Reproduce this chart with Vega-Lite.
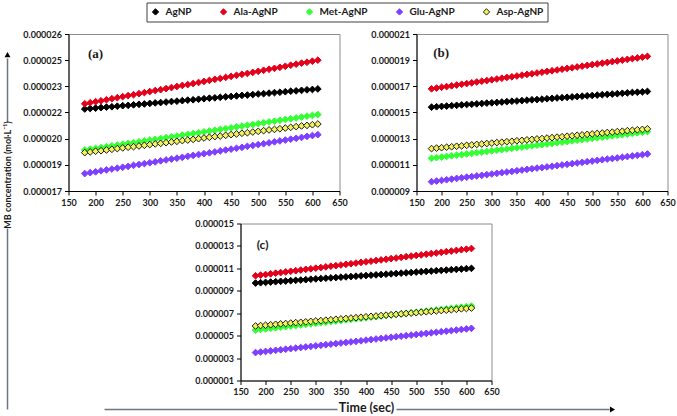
{
  "$schema": "https://vega.github.io/schema/vega-lite/v6.json",
  "background": "white",
  "padding": {"left": 3.5, "top": 2, "right": 0, "bottom": 0},
  "config": {
    "font": "Lato",
    "view": {"stroke": "#8c8c8c", "strokeWidth": 1},
    "axis": {"labelFont": "Lato", "labelFontWeight": "bold", "labelFontSize": 9, "labelColor": "#1a1a1a", "domainColor": "#000000", "tickColor": "#000000", "tickSize": 4, "labelPadding": 3, "grid": false, "title": null, "labelOverlap": false, "labelFlush": false, "tickCount": 30}
  },
  "datasets": {
    "a": [
      {"t":180,"AgNP":21.70e-6,"Ala-AgNP":22.00e-6,"Met-AgNP":19.35e-6,"Glu-AgNP":18.00e-6,"Asp-AgNP":19.20e-6},
      {"t":190,"AgNP":21.73e-6,"Ala-AgNP":22.06e-6,"Met-AgNP":19.40e-6,"Glu-AgNP":18.05e-6,"Asp-AgNP":19.24e-6},
      {"t":200,"AgNP":21.75e-6,"Ala-AgNP":22.12e-6,"Met-AgNP":19.44e-6,"Glu-AgNP":18.10e-6,"Asp-AgNP":19.28e-6},
      {"t":210,"AgNP":21.78e-6,"Ala-AgNP":22.17e-6,"Met-AgNP":19.49e-6,"Glu-AgNP":18.16e-6,"Asp-AgNP":19.31e-6},
      {"t":220,"AgNP":21.81e-6,"Ala-AgNP":22.23e-6,"Met-AgNP":19.54e-6,"Glu-AgNP":18.21e-6,"Asp-AgNP":19.35e-6},
      {"t":230,"AgNP":21.83e-6,"Ala-AgNP":22.29e-6,"Met-AgNP":19.59e-6,"Glu-AgNP":18.26e-6,"Asp-AgNP":19.39e-6},
      {"t":240,"AgNP":21.86e-6,"Ala-AgNP":22.35e-6,"Met-AgNP":19.63e-6,"Glu-AgNP":18.31e-6,"Asp-AgNP":19.43e-6},
      {"t":250,"AgNP":21.89e-6,"Ala-AgNP":22.41e-6,"Met-AgNP":19.68e-6,"Glu-AgNP":18.36e-6,"Asp-AgNP":19.47e-6},
      {"t":260,"AgNP":21.91e-6,"Ala-AgNP":22.47e-6,"Met-AgNP":19.73e-6,"Glu-AgNP":18.41e-6,"Asp-AgNP":19.51e-6},
      {"t":270,"AgNP":21.94e-6,"Ala-AgNP":22.52e-6,"Met-AgNP":19.77e-6,"Glu-AgNP":18.47e-6,"Asp-AgNP":19.54e-6},
      {"t":280,"AgNP":21.97e-6,"Ala-AgNP":22.58e-6,"Met-AgNP":19.82e-6,"Glu-AgNP":18.52e-6,"Asp-AgNP":19.58e-6},
      {"t":290,"AgNP":21.99e-6,"Ala-AgNP":22.64e-6,"Met-AgNP":19.87e-6,"Glu-AgNP":18.57e-6,"Asp-AgNP":19.62e-6},
      {"t":300,"AgNP":22.02e-6,"Ala-AgNP":22.70e-6,"Met-AgNP":19.92e-6,"Glu-AgNP":18.62e-6,"Asp-AgNP":19.66e-6},
      {"t":310,"AgNP":22.05e-6,"Ala-AgNP":22.76e-6,"Met-AgNP":19.96e-6,"Glu-AgNP":18.67e-6,"Asp-AgNP":19.70e-6},
      {"t":320,"AgNP":22.07e-6,"Ala-AgNP":22.81e-6,"Met-AgNP":20.01e-6,"Glu-AgNP":18.73e-6,"Asp-AgNP":19.73e-6},
      {"t":330,"AgNP":22.10e-6,"Ala-AgNP":22.87e-6,"Met-AgNP":20.06e-6,"Glu-AgNP":18.78e-6,"Asp-AgNP":19.77e-6},
      {"t":340,"AgNP":22.13e-6,"Ala-AgNP":22.93e-6,"Met-AgNP":20.11e-6,"Glu-AgNP":18.83e-6,"Asp-AgNP":19.81e-6},
      {"t":350,"AgNP":22.15e-6,"Ala-AgNP":22.99e-6,"Met-AgNP":20.15e-6,"Glu-AgNP":18.88e-6,"Asp-AgNP":19.85e-6},
      {"t":360,"AgNP":22.18e-6,"Ala-AgNP":23.05e-6,"Met-AgNP":20.20e-6,"Glu-AgNP":18.93e-6,"Asp-AgNP":19.89e-6},
      {"t":370,"AgNP":22.21e-6,"Ala-AgNP":23.10e-6,"Met-AgNP":20.25e-6,"Glu-AgNP":18.99e-6,"Asp-AgNP":19.92e-6},
      {"t":380,"AgNP":22.23e-6,"Ala-AgNP":23.16e-6,"Met-AgNP":20.29e-6,"Glu-AgNP":19.04e-6,"Asp-AgNP":19.96e-6},
      {"t":390,"AgNP":22.26e-6,"Ala-AgNP":23.22e-6,"Met-AgNP":20.34e-6,"Glu-AgNP":19.09e-6,"Asp-AgNP":20.00e-6},
      {"t":400,"AgNP":22.29e-6,"Ala-AgNP":23.28e-6,"Met-AgNP":20.39e-6,"Glu-AgNP":19.14e-6,"Asp-AgNP":20.04e-6},
      {"t":410,"AgNP":22.32e-6,"Ala-AgNP":23.34e-6,"Met-AgNP":20.44e-6,"Glu-AgNP":19.19e-6,"Asp-AgNP":20.08e-6},
      {"t":420,"AgNP":22.34e-6,"Ala-AgNP":23.40e-6,"Met-AgNP":20.48e-6,"Glu-AgNP":19.24e-6,"Asp-AgNP":20.12e-6},
      {"t":430,"AgNP":22.37e-6,"Ala-AgNP":23.45e-6,"Met-AgNP":20.53e-6,"Glu-AgNP":19.30e-6,"Asp-AgNP":20.15e-6},
      {"t":440,"AgNP":22.40e-6,"Ala-AgNP":23.51e-6,"Met-AgNP":20.58e-6,"Glu-AgNP":19.35e-6,"Asp-AgNP":20.19e-6},
      {"t":450,"AgNP":22.42e-6,"Ala-AgNP":23.57e-6,"Met-AgNP":20.62e-6,"Glu-AgNP":19.40e-6,"Asp-AgNP":20.23e-6},
      {"t":460,"AgNP":22.45e-6,"Ala-AgNP":23.63e-6,"Met-AgNP":20.67e-6,"Glu-AgNP":19.45e-6,"Asp-AgNP":20.27e-6},
      {"t":470,"AgNP":22.48e-6,"Ala-AgNP":23.69e-6,"Met-AgNP":20.72e-6,"Glu-AgNP":19.50e-6,"Asp-AgNP":20.31e-6},
      {"t":480,"AgNP":22.50e-6,"Ala-AgNP":23.74e-6,"Met-AgNP":20.77e-6,"Glu-AgNP":19.56e-6,"Asp-AgNP":20.34e-6},
      {"t":490,"AgNP":22.53e-6,"Ala-AgNP":23.80e-6,"Met-AgNP":20.81e-6,"Glu-AgNP":19.61e-6,"Asp-AgNP":20.38e-6},
      {"t":500,"AgNP":22.56e-6,"Ala-AgNP":23.86e-6,"Met-AgNP":20.86e-6,"Glu-AgNP":19.66e-6,"Asp-AgNP":20.42e-6},
      {"t":510,"AgNP":22.58e-6,"Ala-AgNP":23.92e-6,"Met-AgNP":20.91e-6,"Glu-AgNP":19.71e-6,"Asp-AgNP":20.46e-6},
      {"t":520,"AgNP":22.61e-6,"Ala-AgNP":23.98e-6,"Met-AgNP":20.96e-6,"Glu-AgNP":19.76e-6,"Asp-AgNP":20.50e-6},
      {"t":530,"AgNP":22.64e-6,"Ala-AgNP":24.03e-6,"Met-AgNP":21.00e-6,"Glu-AgNP":19.82e-6,"Asp-AgNP":20.53e-6},
      {"t":540,"AgNP":22.66e-6,"Ala-AgNP":24.09e-6,"Met-AgNP":21.05e-6,"Glu-AgNP":19.87e-6,"Asp-AgNP":20.57e-6},
      {"t":550,"AgNP":22.69e-6,"Ala-AgNP":24.15e-6,"Met-AgNP":21.10e-6,"Glu-AgNP":19.92e-6,"Asp-AgNP":20.61e-6},
      {"t":560,"AgNP":22.72e-6,"Ala-AgNP":24.21e-6,"Met-AgNP":21.14e-6,"Glu-AgNP":19.97e-6,"Asp-AgNP":20.65e-6},
      {"t":570,"AgNP":22.74e-6,"Ala-AgNP":24.27e-6,"Met-AgNP":21.19e-6,"Glu-AgNP":20.02e-6,"Asp-AgNP":20.69e-6},
      {"t":580,"AgNP":22.77e-6,"Ala-AgNP":24.33e-6,"Met-AgNP":21.24e-6,"Glu-AgNP":20.07e-6,"Asp-AgNP":20.73e-6},
      {"t":590,"AgNP":22.80e-6,"Ala-AgNP":24.38e-6,"Met-AgNP":21.29e-6,"Glu-AgNP":20.13e-6,"Asp-AgNP":20.76e-6},
      {"t":600,"AgNP":22.82e-6,"Ala-AgNP":24.44e-6,"Met-AgNP":21.33e-6,"Glu-AgNP":20.18e-6,"Asp-AgNP":20.80e-6},
      {"t":610,"AgNP":22.85e-6,"Ala-AgNP":24.50e-6,"Met-AgNP":21.38e-6,"Glu-AgNP":20.23e-6,"Asp-AgNP":20.84e-6}
    ],
    "b": [
      {"t":180,"AgNP":15.41e-6,"Ala-AgNP":16.81e-6,"Met-AgNP":11.50e-6,"Glu-AgNP":9.71e-6,"Asp-AgNP":12.24e-6},
      {"t":190,"AgNP":15.44e-6,"Ala-AgNP":16.87e-6,"Met-AgNP":11.55e-6,"Glu-AgNP":9.76e-6,"Asp-AgNP":12.28e-6},
      {"t":200,"AgNP":15.47e-6,"Ala-AgNP":16.93e-6,"Met-AgNP":11.59e-6,"Glu-AgNP":9.81e-6,"Asp-AgNP":12.31e-6},
      {"t":210,"AgNP":15.49e-6,"Ala-AgNP":16.98e-6,"Met-AgNP":11.64e-6,"Glu-AgNP":9.86e-6,"Asp-AgNP":12.35e-6},
      {"t":220,"AgNP":15.52e-6,"Ala-AgNP":17.04e-6,"Met-AgNP":11.69e-6,"Glu-AgNP":9.91e-6,"Asp-AgNP":12.38e-6},
      {"t":230,"AgNP":15.55e-6,"Ala-AgNP":17.10e-6,"Met-AgNP":11.74e-6,"Glu-AgNP":9.96e-6,"Asp-AgNP":12.42e-6},
      {"t":240,"AgNP":15.58e-6,"Ala-AgNP":17.16e-6,"Met-AgNP":11.78e-6,"Glu-AgNP":10.01e-6,"Asp-AgNP":12.45e-6},
      {"t":250,"AgNP":15.61e-6,"Ala-AgNP":17.21e-6,"Met-AgNP":11.83e-6,"Glu-AgNP":10.06e-6,"Asp-AgNP":12.49e-6},
      {"t":260,"AgNP":15.63e-6,"Ala-AgNP":17.27e-6,"Met-AgNP":11.88e-6,"Glu-AgNP":10.10e-6,"Asp-AgNP":12.52e-6},
      {"t":270,"AgNP":15.66e-6,"Ala-AgNP":17.33e-6,"Met-AgNP":11.93e-6,"Glu-AgNP":10.15e-6,"Asp-AgNP":12.56e-6},
      {"t":280,"AgNP":15.69e-6,"Ala-AgNP":17.39e-6,"Met-AgNP":11.97e-6,"Glu-AgNP":10.20e-6,"Asp-AgNP":12.59e-6},
      {"t":290,"AgNP":15.72e-6,"Ala-AgNP":17.44e-6,"Met-AgNP":12.02e-6,"Glu-AgNP":10.25e-6,"Asp-AgNP":12.63e-6},
      {"t":300,"AgNP":15.74e-6,"Ala-AgNP":17.50e-6,"Met-AgNP":12.07e-6,"Glu-AgNP":10.30e-6,"Asp-AgNP":12.66e-6},
      {"t":310,"AgNP":15.77e-6,"Ala-AgNP":17.56e-6,"Met-AgNP":12.12e-6,"Glu-AgNP":10.35e-6,"Asp-AgNP":12.70e-6},
      {"t":320,"AgNP":15.80e-6,"Ala-AgNP":17.62e-6,"Met-AgNP":12.16e-6,"Glu-AgNP":10.40e-6,"Asp-AgNP":12.73e-6},
      {"t":330,"AgNP":15.83e-6,"Ala-AgNP":17.68e-6,"Met-AgNP":12.21e-6,"Glu-AgNP":10.45e-6,"Asp-AgNP":12.77e-6},
      {"t":340,"AgNP":15.86e-6,"Ala-AgNP":17.73e-6,"Met-AgNP":12.26e-6,"Glu-AgNP":10.50e-6,"Asp-AgNP":12.80e-6},
      {"t":350,"AgNP":15.88e-6,"Ala-AgNP":17.79e-6,"Met-AgNP":12.31e-6,"Glu-AgNP":10.55e-6,"Asp-AgNP":12.84e-6},
      {"t":360,"AgNP":15.91e-6,"Ala-AgNP":17.85e-6,"Met-AgNP":12.35e-6,"Glu-AgNP":10.60e-6,"Asp-AgNP":12.87e-6},
      {"t":370,"AgNP":15.94e-6,"Ala-AgNP":17.91e-6,"Met-AgNP":12.40e-6,"Glu-AgNP":10.65e-6,"Asp-AgNP":12.91e-6},
      {"t":380,"AgNP":15.97e-6,"Ala-AgNP":17.96e-6,"Met-AgNP":12.45e-6,"Glu-AgNP":10.70e-6,"Asp-AgNP":12.94e-6},
      {"t":390,"AgNP":15.99e-6,"Ala-AgNP":18.02e-6,"Met-AgNP":12.50e-6,"Glu-AgNP":10.75e-6,"Asp-AgNP":12.98e-6},
      {"t":400,"AgNP":16.02e-6,"Ala-AgNP":18.08e-6,"Met-AgNP":12.54e-6,"Glu-AgNP":10.79e-6,"Asp-AgNP":13.01e-6},
      {"t":410,"AgNP":16.05e-6,"Ala-AgNP":18.14e-6,"Met-AgNP":12.59e-6,"Glu-AgNP":10.84e-6,"Asp-AgNP":13.05e-6},
      {"t":420,"AgNP":16.08e-6,"Ala-AgNP":18.19e-6,"Met-AgNP":12.64e-6,"Glu-AgNP":10.89e-6,"Asp-AgNP":13.08e-6},
      {"t":430,"AgNP":16.11e-6,"Ala-AgNP":18.25e-6,"Met-AgNP":12.69e-6,"Glu-AgNP":10.94e-6,"Asp-AgNP":13.12e-6},
      {"t":440,"AgNP":16.13e-6,"Ala-AgNP":18.31e-6,"Met-AgNP":12.73e-6,"Glu-AgNP":10.99e-6,"Asp-AgNP":13.15e-6},
      {"t":450,"AgNP":16.16e-6,"Ala-AgNP":18.37e-6,"Met-AgNP":12.78e-6,"Glu-AgNP":11.04e-6,"Asp-AgNP":13.19e-6},
      {"t":460,"AgNP":16.19e-6,"Ala-AgNP":18.42e-6,"Met-AgNP":12.83e-6,"Glu-AgNP":11.09e-6,"Asp-AgNP":13.22e-6},
      {"t":470,"AgNP":16.22e-6,"Ala-AgNP":18.48e-6,"Met-AgNP":12.88e-6,"Glu-AgNP":11.14e-6,"Asp-AgNP":13.26e-6},
      {"t":480,"AgNP":16.25e-6,"Ala-AgNP":18.54e-6,"Met-AgNP":12.92e-6,"Glu-AgNP":11.19e-6,"Asp-AgNP":13.29e-6},
      {"t":490,"AgNP":16.28e-6,"Ala-AgNP":18.60e-6,"Met-AgNP":12.97e-6,"Glu-AgNP":11.24e-6,"Asp-AgNP":13.33e-6},
      {"t":500,"AgNP":16.30e-6,"Ala-AgNP":18.66e-6,"Met-AgNP":13.02e-6,"Glu-AgNP":11.29e-6,"Asp-AgNP":13.36e-6},
      {"t":510,"AgNP":16.33e-6,"Ala-AgNP":18.71e-6,"Met-AgNP":13.07e-6,"Glu-AgNP":11.34e-6,"Asp-AgNP":13.40e-6},
      {"t":520,"AgNP":16.36e-6,"Ala-AgNP":18.77e-6,"Met-AgNP":13.11e-6,"Glu-AgNP":11.39e-6,"Asp-AgNP":13.43e-6},
      {"t":530,"AgNP":16.39e-6,"Ala-AgNP":18.83e-6,"Met-AgNP":13.16e-6,"Glu-AgNP":11.44e-6,"Asp-AgNP":13.47e-6},
      {"t":540,"AgNP":16.41e-6,"Ala-AgNP":18.89e-6,"Met-AgNP":13.21e-6,"Glu-AgNP":11.48e-6,"Asp-AgNP":13.50e-6},
      {"t":550,"AgNP":16.44e-6,"Ala-AgNP":18.94e-6,"Met-AgNP":13.26e-6,"Glu-AgNP":11.53e-6,"Asp-AgNP":13.54e-6},
      {"t":560,"AgNP":16.47e-6,"Ala-AgNP":19.00e-6,"Met-AgNP":13.30e-6,"Glu-AgNP":11.58e-6,"Asp-AgNP":13.57e-6},
      {"t":570,"AgNP":16.50e-6,"Ala-AgNP":19.06e-6,"Met-AgNP":13.35e-6,"Glu-AgNP":11.63e-6,"Asp-AgNP":13.61e-6},
      {"t":580,"AgNP":16.53e-6,"Ala-AgNP":19.12e-6,"Met-AgNP":13.40e-6,"Glu-AgNP":11.68e-6,"Asp-AgNP":13.64e-6},
      {"t":590,"AgNP":16.55e-6,"Ala-AgNP":19.17e-6,"Met-AgNP":13.45e-6,"Glu-AgNP":11.73e-6,"Asp-AgNP":13.68e-6},
      {"t":600,"AgNP":16.58e-6,"Ala-AgNP":19.23e-6,"Met-AgNP":13.49e-6,"Glu-AgNP":11.78e-6,"Asp-AgNP":13.71e-6},
      {"t":610,"AgNP":16.61e-6,"Ala-AgNP":19.29e-6,"Met-AgNP":13.54e-6,"Glu-AgNP":11.83e-6,"Asp-AgNP":13.75e-6}
    ],
    "c": [
      {"t":180,"AgNP":9.69e-6,"Ala-AgNP":10.34e-6,"Met-AgNP":5.50e-6,"Glu-AgNP":3.49e-6,"Asp-AgNP":5.86e-6},
      {"t":190,"AgNP":9.72e-6,"Ala-AgNP":10.40e-6,"Met-AgNP":5.55e-6,"Glu-AgNP":3.54e-6,"Asp-AgNP":5.90e-6},
      {"t":200,"AgNP":9.75e-6,"Ala-AgNP":10.45e-6,"Met-AgNP":5.60e-6,"Glu-AgNP":3.59e-6,"Asp-AgNP":5.93e-6},
      {"t":210,"AgNP":9.78e-6,"Ala-AgNP":10.51e-6,"Met-AgNP":5.65e-6,"Glu-AgNP":3.64e-6,"Asp-AgNP":5.97e-6},
      {"t":220,"AgNP":9.81e-6,"Ala-AgNP":10.57e-6,"Met-AgNP":5.70e-6,"Glu-AgNP":3.69e-6,"Asp-AgNP":6.01e-6},
      {"t":230,"AgNP":9.84e-6,"Ala-AgNP":10.62e-6,"Met-AgNP":5.75e-6,"Glu-AgNP":3.74e-6,"Asp-AgNP":6.05e-6},
      {"t":240,"AgNP":9.87e-6,"Ala-AgNP":10.68e-6,"Met-AgNP":5.80e-6,"Glu-AgNP":3.79e-6,"Asp-AgNP":6.08e-6},
      {"t":250,"AgNP":9.90e-6,"Ala-AgNP":10.74e-6,"Met-AgNP":5.85e-6,"Glu-AgNP":3.84e-6,"Asp-AgNP":6.12e-6},
      {"t":260,"AgNP":9.93e-6,"Ala-AgNP":10.79e-6,"Met-AgNP":5.90e-6,"Glu-AgNP":3.89e-6,"Asp-AgNP":6.16e-6},
      {"t":270,"AgNP":9.96e-6,"Ala-AgNP":10.85e-6,"Met-AgNP":5.95e-6,"Glu-AgNP":3.94e-6,"Asp-AgNP":6.19e-6},
      {"t":280,"AgNP":9.99e-6,"Ala-AgNP":10.91e-6,"Met-AgNP":6.00e-6,"Glu-AgNP":3.99e-6,"Asp-AgNP":6.23e-6},
      {"t":290,"AgNP":10.03e-6,"Ala-AgNP":10.96e-6,"Met-AgNP":6.05e-6,"Glu-AgNP":4.04e-6,"Asp-AgNP":6.27e-6},
      {"t":300,"AgNP":10.06e-6,"Ala-AgNP":11.02e-6,"Met-AgNP":6.10e-6,"Glu-AgNP":4.09e-6,"Asp-AgNP":6.31e-6},
      {"t":310,"AgNP":10.09e-6,"Ala-AgNP":11.07e-6,"Met-AgNP":6.15e-6,"Glu-AgNP":4.14e-6,"Asp-AgNP":6.34e-6},
      {"t":320,"AgNP":10.12e-6,"Ala-AgNP":11.13e-6,"Met-AgNP":6.20e-6,"Glu-AgNP":4.19e-6,"Asp-AgNP":6.38e-6},
      {"t":330,"AgNP":10.15e-6,"Ala-AgNP":11.19e-6,"Met-AgNP":6.25e-6,"Glu-AgNP":4.24e-6,"Asp-AgNP":6.42e-6},
      {"t":340,"AgNP":10.18e-6,"Ala-AgNP":11.24e-6,"Met-AgNP":6.30e-6,"Glu-AgNP":4.29e-6,"Asp-AgNP":6.46e-6},
      {"t":350,"AgNP":10.21e-6,"Ala-AgNP":11.30e-6,"Met-AgNP":6.35e-6,"Glu-AgNP":4.34e-6,"Asp-AgNP":6.49e-6},
      {"t":360,"AgNP":10.24e-6,"Ala-AgNP":11.36e-6,"Met-AgNP":6.40e-6,"Glu-AgNP":4.39e-6,"Asp-AgNP":6.53e-6},
      {"t":370,"AgNP":10.27e-6,"Ala-AgNP":11.41e-6,"Met-AgNP":6.45e-6,"Glu-AgNP":4.44e-6,"Asp-AgNP":6.57e-6},
      {"t":380,"AgNP":10.30e-6,"Ala-AgNP":11.47e-6,"Met-AgNP":6.50e-6,"Glu-AgNP":4.49e-6,"Asp-AgNP":6.60e-6},
      {"t":390,"AgNP":10.33e-6,"Ala-AgNP":11.53e-6,"Met-AgNP":6.55e-6,"Glu-AgNP":4.54e-6,"Asp-AgNP":6.64e-6},
      {"t":400,"AgNP":10.36e-6,"Ala-AgNP":11.58e-6,"Met-AgNP":6.59e-6,"Glu-AgNP":4.60e-6,"Asp-AgNP":6.68e-6},
      {"t":410,"AgNP":10.39e-6,"Ala-AgNP":11.64e-6,"Met-AgNP":6.64e-6,"Glu-AgNP":4.65e-6,"Asp-AgNP":6.72e-6},
      {"t":420,"AgNP":10.42e-6,"Ala-AgNP":11.70e-6,"Met-AgNP":6.69e-6,"Glu-AgNP":4.70e-6,"Asp-AgNP":6.75e-6},
      {"t":430,"AgNP":10.45e-6,"Ala-AgNP":11.75e-6,"Met-AgNP":6.74e-6,"Glu-AgNP":4.75e-6,"Asp-AgNP":6.79e-6},
      {"t":440,"AgNP":10.48e-6,"Ala-AgNP":11.81e-6,"Met-AgNP":6.79e-6,"Glu-AgNP":4.80e-6,"Asp-AgNP":6.83e-6},
      {"t":450,"AgNP":10.51e-6,"Ala-AgNP":11.87e-6,"Met-AgNP":6.84e-6,"Glu-AgNP":4.85e-6,"Asp-AgNP":6.86e-6},
      {"t":460,"AgNP":10.54e-6,"Ala-AgNP":11.92e-6,"Met-AgNP":6.89e-6,"Glu-AgNP":4.90e-6,"Asp-AgNP":6.90e-6},
      {"t":470,"AgNP":10.57e-6,"Ala-AgNP":11.98e-6,"Met-AgNP":6.94e-6,"Glu-AgNP":4.95e-6,"Asp-AgNP":6.94e-6},
      {"t":480,"AgNP":10.60e-6,"Ala-AgNP":12.04e-6,"Met-AgNP":6.99e-6,"Glu-AgNP":5.00e-6,"Asp-AgNP":6.98e-6},
      {"t":490,"AgNP":10.63e-6,"Ala-AgNP":12.09e-6,"Met-AgNP":7.04e-6,"Glu-AgNP":5.05e-6,"Asp-AgNP":7.01e-6},
      {"t":500,"AgNP":10.67e-6,"Ala-AgNP":12.15e-6,"Met-AgNP":7.09e-6,"Glu-AgNP":5.10e-6,"Asp-AgNP":7.05e-6},
      {"t":510,"AgNP":10.70e-6,"Ala-AgNP":12.20e-6,"Met-AgNP":7.14e-6,"Glu-AgNP":5.15e-6,"Asp-AgNP":7.09e-6},
      {"t":520,"AgNP":10.73e-6,"Ala-AgNP":12.26e-6,"Met-AgNP":7.19e-6,"Glu-AgNP":5.20e-6,"Asp-AgNP":7.13e-6},
      {"t":530,"AgNP":10.76e-6,"Ala-AgNP":12.32e-6,"Met-AgNP":7.24e-6,"Glu-AgNP":5.25e-6,"Asp-AgNP":7.16e-6},
      {"t":540,"AgNP":10.79e-6,"Ala-AgNP":12.37e-6,"Met-AgNP":7.29e-6,"Glu-AgNP":5.30e-6,"Asp-AgNP":7.20e-6},
      {"t":550,"AgNP":10.82e-6,"Ala-AgNP":12.43e-6,"Met-AgNP":7.34e-6,"Glu-AgNP":5.35e-6,"Asp-AgNP":7.24e-6},
      {"t":560,"AgNP":10.85e-6,"Ala-AgNP":12.49e-6,"Met-AgNP":7.39e-6,"Glu-AgNP":5.40e-6,"Asp-AgNP":7.27e-6},
      {"t":570,"AgNP":10.88e-6,"Ala-AgNP":12.54e-6,"Met-AgNP":7.44e-6,"Glu-AgNP":5.45e-6,"Asp-AgNP":7.31e-6},
      {"t":580,"AgNP":10.91e-6,"Ala-AgNP":12.60e-6,"Met-AgNP":7.49e-6,"Glu-AgNP":5.50e-6,"Asp-AgNP":7.35e-6},
      {"t":590,"AgNP":10.94e-6,"Ala-AgNP":12.66e-6,"Met-AgNP":7.54e-6,"Glu-AgNP":5.55e-6,"Asp-AgNP":7.39e-6},
      {"t":600,"AgNP":10.97e-6,"Ala-AgNP":12.71e-6,"Met-AgNP":7.59e-6,"Glu-AgNP":5.60e-6,"Asp-AgNP":7.42e-6},
      {"t":610,"AgNP":11.00e-6,"Ala-AgNP":12.77e-6,"Met-AgNP":7.64e-6,"Glu-AgNP":5.65e-6,"Asp-AgNP":7.46e-6}
    ]
  },
  "bounds": "flush",
  "spacing": 189.5,
  "resolve": {"scale": {"fill": "shared", "stroke": "shared"}, "legend": {"fill": "shared", "stroke": "shared"}},
  "vconcat": [
    {
      "bounds": "flush",
      "spacing": 77,
      "hconcat": [
        {
          "width": 271,
          "height": 157,
          "data": {"name": "a"},
          "transform": [{"fold": ["AgNP", "Ala-AgNP", "Met-AgNP", "Glu-AgNP", "Asp-AgNP"]}],
          "layer": [
            {"mark": {"type": "point", "shape": "diamond", "filled": true, "size": 45, "strokeWidth": 1, "opacity": 1},
             "encoding": {
               "x": {"field": "t", "type": "quantitative", "scale": {"domain": [150, 650], "nice": false}, "axis": {"values": [150, 200, 250, 300, 350, 400, 450, 500, 550, 600, 650], "tickCount": 30, "labelOverlap": false}},
               "y": {"field": "value", "type": "quantitative", "scale": {"domain": [0.000017, 0.000026], "nice": false, "zero": false}, "axis": {"values": [0.000017, 0.0000185, 0.00002, 0.0000215, 0.000023, 0.0000245, 0.000026], "tickCount": 30, "labelOverlap": false, "labelExpr": "format(ceil(datum.value*1000000-0.01)/1000000, '.6f')"}},
               "fill": {"field": "key", "type": "nominal", "scale": {"domain": ["AgNP", "Ala-AgNP", "Met-AgNP", "Glu-AgNP", "Asp-AgNP"], "range": ["#000000", "#e3001b", "#33ff33", "#7f3fff", "#f2f25a"]},
                        "legend": {"title": null, "orient": "none", "legendX": 78, "legendY": -31.5, "direction": "horizontal", "columns": 5, "symbolType": "diamond", "symbolSize": 40, "symbolStrokeWidth": 1, "labelFont": "Lato", "labelFontWeight": "bold", "labelFontSize": 10, "labelColor": "#1a1a1a", "labelOffset": 5, "columnPadding": 25, "padding": 4, "strokeColor": "#404040", "fillColor": "#ffffff"}},
               "stroke": {"field": "key", "type": "nominal", "scale": {"domain": ["AgNP", "Ala-AgNP", "Met-AgNP", "Glu-AgNP", "Asp-AgNP"], "range": ["#000000", "#e3001b", "#33ff33", "#7f3fff", "#1a1a1a"]},
                        "legend": {"title": null, "orient": "none", "legendX": 78, "legendY": -31.5, "direction": "horizontal", "columns": 5, "symbolType": "diamond", "symbolSize": 40, "symbolStrokeWidth": 1, "labelFont": "Lato", "labelFontWeight": "bold", "labelFontSize": 10, "labelColor": "#1a1a1a", "labelOffset": 5, "columnPadding": 25, "padding": 4, "strokeColor": "#404040", "fillColor": "#ffffff"}}
             }},
            {"data": {"values": [{}]},
             "mark": {"type": "text", "font": "Liberation Serif", "fontWeight": "bold", "fontSize": 13, "color": "#1a1a1a", "align": "center", "baseline": "middle"},
             "encoding": {"x": {"datum": 200, "type": "quantitative"}, "y": {"datum": 0.00002485, "type": "quantitative"}, "text": {"value": "(a)"}}}
          ]
        },
        {
          "width": 251,
          "height": 157,
          "data": {"name": "b"},
          "transform": [{"fold": ["AgNP", "Ala-AgNP", "Met-AgNP", "Glu-AgNP", "Asp-AgNP"]}],
          "layer": [
            {"mark": {"type": "point", "shape": "diamond", "filled": true, "size": 45, "strokeWidth": 1, "opacity": 1},
             "encoding": {
               "x": {"field": "t", "type": "quantitative", "scale": {"domain": [150, 650], "nice": false}, "axis": {"values": [150, 200, 250, 300, 350, 400, 450, 500, 550, 600, 650], "tickCount": 30, "labelOverlap": false}},
               "y": {"field": "value", "type": "quantitative", "scale": {"domain": [0.000009, 0.000021], "nice": false, "zero": false}, "axis": {"values": [0.000009, 0.000011, 0.000013, 0.000015, 0.000017, 0.000019, 0.000021], "tickCount": 30, "labelOverlap": false, "format": ".6f"}},
               "fill": {"field": "key", "type": "nominal", "legend": {"title": null, "orient": "none", "legendX": 78, "legendY": -31.5, "direction": "horizontal", "columns": 5, "symbolType": "diamond", "symbolSize": 40, "symbolStrokeWidth": 1, "labelFont": "Lato", "labelFontWeight": "bold", "labelFontSize": 10, "labelColor": "#1a1a1a", "labelOffset": 5, "columnPadding": 25, "padding": 4, "strokeColor": "#404040", "fillColor": "#ffffff"}},
               "stroke": {"field": "key", "type": "nominal", "legend": {"title": null, "orient": "none", "legendX": 78, "legendY": -31.5, "direction": "horizontal", "columns": 5, "symbolType": "diamond", "symbolSize": 40, "symbolStrokeWidth": 1, "labelFont": "Lato", "labelFontWeight": "bold", "labelFontSize": 10, "labelColor": "#1a1a1a", "labelOffset": 5, "columnPadding": 25, "padding": 4, "strokeColor": "#404040", "fillColor": "#ffffff"}}
             }},
            {"data": {"values": [{}]},
             "mark": {"type": "text", "font": "Liberation Serif", "fontWeight": "bold", "fontSize": 13, "color": "#1a1a1a", "align": "center", "baseline": "middle"},
             "encoding": {"x": {"datum": 199, "type": "quantitative"}, "y": {"datum": 0.00001954, "type": "quantitative"}, "text": {"value": "(b)"}}}
          ]
        }
      ]
    },
    {
      "bounds": "flush",
      "spacing": 77,
      "hconcat": [
        {
          "width": 95,
          "height": 157,
          "data": {"values": [{}]},
          "view": {"stroke": null},
          "layer": [
            {"mark": {"type": "rule", "color": "#6b7682", "strokeWidth": 1.5},
             "encoding": {"x": {"datum": -0.642, "type": "quantitative", "scale": {"domain": [0, 1], "nice": false, "zero": false}, "axis": null},
                          "y": {"datum": -0.1847, "type": "quantitative", "scale": {"domain": [0, 1], "nice": false, "zero": false}, "axis": null},
                          "y2": {"datum": 0.9682}}},
            {"mark": {"type": "rule", "color": "#6b7682", "strokeWidth": 1.5},
             "encoding": {"x": {"datum": -0.642, "type": "quantitative"},
                          "y": {"datum": 1.6433, "type": "quantitative"},
                          "y2": {"datum": 2.051}}},
            {"mark": {"type": "point", "shape": "triangle-up", "filled": true, "color": "#000000", "size": 35, "opacity": 1},
             "encoding": {"x": {"datum": -0.642, "type": "quantitative"},
                          "y": {"datum": 2.076, "type": "quantitative"}}},
            {"mark": {"type": "text", "angle": 270, "align": "center", "baseline": "middle", "font": "Lato", "fontWeight": "bold", "fontSize": 9, "color": "#1a1a1a"},
             "encoding": {"x": {"datum": -0.642, "type": "quantitative"},
                          "y": {"datum": 1.3089, "type": "quantitative"},
                          "text": {"value": "MB concentration (mol·L⁻¹)"}}},
            {"mark": {"type": "rule", "color": "#6b7682", "strokeWidth": 1.5},
             "encoding": {"x": {"datum": 0.379, "type": "quantitative"},
                          "x2": {"datum": 2.832},
                          "y": {"datum": -0.1847, "type": "quantitative"}}},
            {"mark": {"type": "rule", "color": "#6b7682", "strokeWidth": 1.5},
             "encoding": {"x": {"datum": 3.453, "type": "quantitative"},
                          "x2": {"datum": 5.695},
                          "y": {"datum": -0.1847, "type": "quantitative"}}},
            {"mark": {"type": "point", "shape": "triangle-right", "filled": true, "color": "#000000", "size": 35, "opacity": 1},
             "encoding": {"x": {"datum": 5.726, "type": "quantitative"},
                          "y": {"datum": -0.1847, "type": "quantitative"}}},
            {"mark": {"type": "text", "align": "center", "baseline": "middle", "font": "Lato", "fontWeight": "bold", "fontSize": 12.5, "color": "#1a1a1a"},
             "encoding": {"x": {"datum": 3.137, "type": "quantitative"},
                          "y": {"datum": -0.1752, "type": "quantitative"},
                          "text": {"value": "Time (sec)"}}}
          ]
        },
        {
          "width": 251,
          "height": 157,
          "data": {"name": "c"},
          "transform": [{"fold": ["AgNP", "Ala-AgNP", "Met-AgNP", "Glu-AgNP", "Asp-AgNP"]}],
          "layer": [
            {"mark": {"type": "point", "shape": "diamond", "filled": true, "size": 45, "strokeWidth": 1, "opacity": 1},
             "encoding": {
               "x": {"field": "t", "type": "quantitative", "scale": {"domain": [150, 650], "nice": false}, "axis": {"values": [150, 200, 250, 300, 350, 400, 450, 500, 550, 600, 650], "tickCount": 30, "labelOverlap": false}},
               "y": {"field": "value", "type": "quantitative", "scale": {"domain": [0.000001, 0.000015], "nice": false, "zero": false}, "axis": {"values": [0.000001, 0.000003, 0.000005, 0.000007, 0.000009, 0.000011, 0.000013, 0.000015], "tickCount": 30, "labelOverlap": false, "format": ".6f"}},
               "fill": {"field": "key", "type": "nominal", "legend": {"title": null, "orient": "none", "legendX": 78, "legendY": -31.5, "direction": "horizontal", "columns": 5, "symbolType": "diamond", "symbolSize": 40, "symbolStrokeWidth": 1, "labelFont": "Lato", "labelFontWeight": "bold", "labelFontSize": 10, "labelColor": "#1a1a1a", "labelOffset": 5, "columnPadding": 25, "padding": 4, "strokeColor": "#404040", "fillColor": "#ffffff"}},
               "stroke": {"field": "key", "type": "nominal", "legend": {"title": null, "orient": "none", "legendX": 78, "legendY": -31.5, "direction": "horizontal", "columns": 5, "symbolType": "diamond", "symbolSize": 40, "symbolStrokeWidth": 1, "labelFont": "Lato", "labelFontWeight": "bold", "labelFontSize": 10, "labelColor": "#1a1a1a", "labelOffset": 5, "columnPadding": 25, "padding": 4, "strokeColor": "#404040", "fillColor": "#ffffff"}}
             }},
            {"data": {"values": [{}]},
             "mark": {"type": "text", "font": "Lato", "fontWeight": "bold", "fontSize": 12, "color": "#1a1a1a", "align": "center", "baseline": "middle"},
             "encoding": {"x": {"datum": 194, "type": "quantitative"}, "y": {"datum": 0.00001307, "type": "quantitative"}, "text": {"value": "(c)"}}}
          ]
        }
      ]
    }
  ]
}
